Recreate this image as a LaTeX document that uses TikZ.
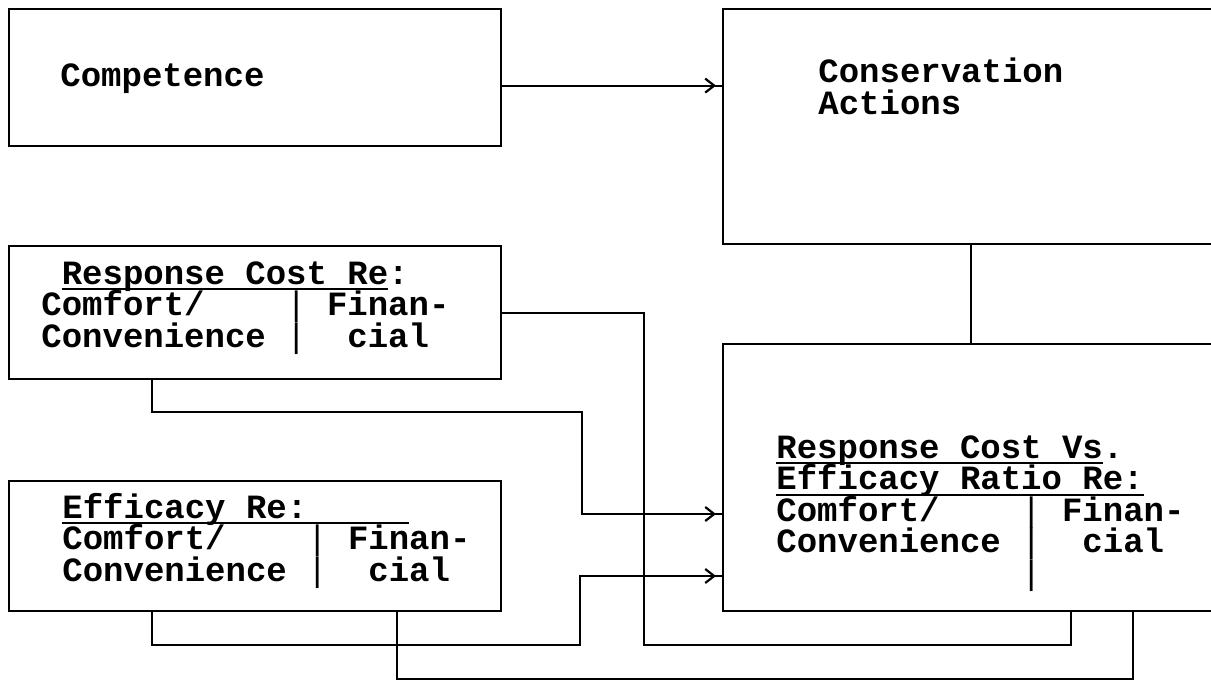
\documentclass[tikz,border=0pt]{standalone}
\usepackage{fontspec}
\setmainfont{Liberation Mono}
\usepackage{tikz}
\usetikzlibrary{positioning,arrows.meta,calc}
\newcommand{\undl}[1]{\setbox0=\hbox{#1}\rlap{\rule[-3pt]{\wd0}{0.9pt}}\box0}
\newcommand{\boxfont}{\bfseries\fontsize{17}{15.75}\selectfont\lineskiplimit=-20pt\relax}
\newcommand{\colbar}{{\mdseries|}}

\begin{document}
\begin{tikzpicture}[
  x=0.5pt, y=-0.5pt,
  box/.style={draw, line width=1.1pt, inner sep=0pt, anchor=north west, minimum width=246pt},
  wide/.style={box, minimum width=248pt},
  txt/.style={anchor=base west, align=left, inner sep=0pt, font=\boxfont},
  wire/.style={line width=1.1pt},
  feed/.style={wire, postaction={draw, shorten >=3pt, -{Straight Barb[length=4.5pt, width=7pt]}}}
]
\useasboundingbox (0,0) rectangle (1211,682);
\clip (0,0) rectangle (1211,682);

\node[box, minimum height=68.5pt] (comp) at (8,8) {};
\node[wide, minimum height=117.5pt] (cons) at (722,8) {};
\node[box, minimum height=66.5pt] (rcost) at (8,245) {};
\node[box, minimum height=65pt] (effic) at (8,480) {};
\node[wide, minimum height=133.5pt] (ratio) at (722,343) {};

% base anchor sits on the last line
\node[txt] (compT) at (60,86) {Competence};
\node[txt] (consT) at (818,114) {Conservation\\Actions};
\node[txt] (rcostT) at (41,347) {\hphantom{x}\undl{Response Cost Re}:\\Comfort/~~~~\colbar~Finan-\\Convenience~\colbar~~cial};
\node[txt] (efficT) at (62,581) {\undl{Efficacy Re:~~~~~}\\Comfort/~~~~\colbar~Finan-\\Convenience~\colbar~~cial};
\node[txt] (ratioT) at (776,584) {\undl{Response Cost Vs}.\\\undl{Efficacy Ratio Re:}\\Comfort/~~~~\colbar~Finan-\\Convenience~\colbar~~cial\\\hphantom{Convenience~}\colbar};

\coordinate (compOut) at ($(comp.east)+(0,8)$);
\draw[feed] (compOut) -- (compOut -| cons.west);
\draw[wire] (cons.south) -- (ratio.north);
\draw[wire] (rcost.east) -- ++(142,0) -- ++(0,332) -| ($(ratio.south)+(100,0)$);
\draw[feed] ($(rcost.south west)+(144,0)$) -- ++(0,32) -- ++(430,0) |- ($(ratio.north west)+(0,171)$);
\draw[feed] ($(effic.south west)+(144,0)$) -- ++(0,33) -- ++(428,0) |- ($(ratio.north west)+(0,233)$);
\draw[wire] ($(effic.south west)+(389,0)$) -- ++(0,67) -| ($(ratio.south)+(162,0)$);
\end{tikzpicture}
\end{document}
